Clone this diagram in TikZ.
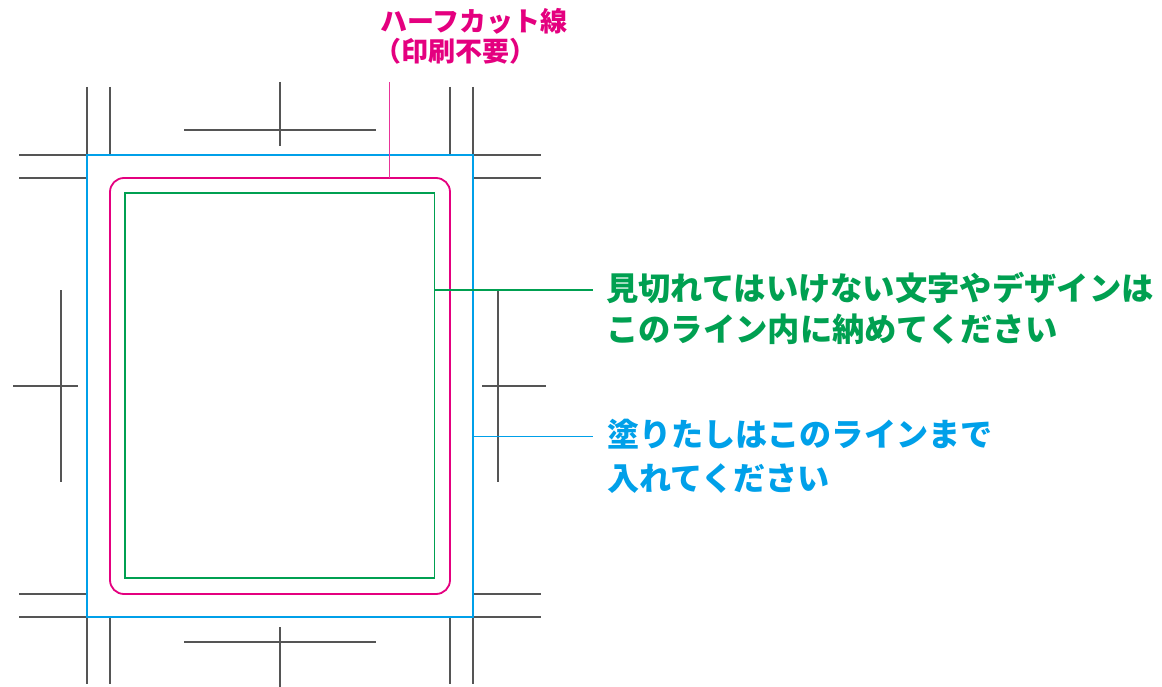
\documentclass[tikz,border=0pt]{standalone}
\usepackage{fontspec}
\newfontfamily\cjk{Noto Sans CJK JP}
\definecolor{mag}{HTML}{E4007F}
\definecolor{grn}{HTML}{00A051}
\definecolor{cyn}{HTML}{00A0E9}
\definecolor{crop}{HTML}{555555}
\begin{document}
\begin{tikzpicture}[x=1pt,y=-1pt,
  cropline/.style={draw=crop,line width=1.1pt},
  bleedline/.style={draw=cyn,line width=1.5pt},
  cutline/.style={draw=mag,line width=1.8pt,rounded corners=14pt},
  safeline/.style={draw=grn,line width=1.5pt},
  gtext/.style={anchor=base west,inner sep=0pt,text=grn,font=\cjk\bfseries\fontsize{32.3}{38}\selectfont},
  btext/.style={anchor=base west,inner sep=0pt,text=cyn,font=\cjk\bfseries\fontsize{32.1}{38}\selectfont},
  mtext/.style={anchor=base west,inner sep=0pt,text=mag,font=\cjk\bfseries\fontsize{27}{32}\selectfont}]
\useasboundingbox (0,0) rectangle (1162,687);
% crop marks: corners
\draw[cropline] (87,87) -- (87,155) (110,87) -- (110,155);
\draw[cropline] (19,155) -- (87,155) (19,178) -- (87,178);
\draw[cropline] (450,87) -- (450,155) (473,87) -- (473,155);
\draw[cropline] (473,155) -- (541,155) (473,178) -- (541,178);
\draw[cropline] (19,594) -- (87,594) (19,617) -- (87,617);
\draw[cropline] (87,617) -- (87,684) (110,617) -- (110,684);
\draw[cropline] (473,594) -- (541,594) (473,617) -- (541,617);
\draw[cropline] (450,617) -- (450,684) (473,617) -- (473,684);
% crop marks: centres
\draw[cropline] (280,82) -- (280,146) (184,130) -- (376,130);
\draw[cropline] (280,627) -- (280,687) (184,642) -- (376,642);
\draw[cropline] (61,290) -- (61,482) (13,386) -- (78,386);
\draw[cropline] (498,290) -- (498,482) (482,386) -- (546,386);
% frames
\draw[bleedline] (87,155) rectangle (473,617);
\draw[cutline] (110,178) rectangle (450,594);
\draw[safeline] (125,193) rectangle (434.5,578);
% labels
\node[mtext] (m1) at (380,32) {ハーフカット線};
\node[mtext] (m2) at (374,62) {（印刷不要）};
\node[gtext] (g1) at (606,300) {見切れてはいけない文字やデザインは};
\node[gtext] (g2) at (606,341) {このライン内に納めてください};
\node[btext] (b1) at (607,446) {塗りたしはこのラインまで};
\node[btext] (b2) at (607,490) {入れてください};
% leaders
\coordinate (mtop) at (389,82);
\coordinate (mcut) at (389,178);
\coordinate (gst) at (434.5,290);
\coordinate (gen) at (593,290);
\coordinate (bst) at (473,436.5);
\coordinate (ben) at (593,436.5);
\draw[mag!80,line width=1pt] (mtop) -- (mcut);
\draw[grn,line width=1.5pt] (gst) -- (gen);
\draw[cyn,line width=1.5pt] (bst) -- (ben);
\end{tikzpicture}
\end{document}
